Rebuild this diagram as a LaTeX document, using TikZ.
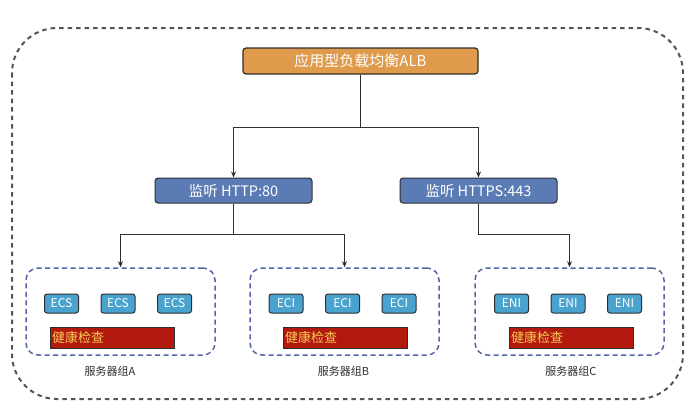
\documentclass[tikz,border=0pt]{standalone}
\usepackage{fontspec}
\setmainfont{Noto Sans CJK SC}
\usetikzlibrary{arrows.meta}
\definecolor{ink}{HTML}{2E2E2E}
\definecolor{albcol}{HTML}{DF9B4B}
\definecolor{lsncol}{HTML}{5A7BB3}
\definecolor{srvcol}{HTML}{4AA3CF}
\definecolor{hccol}{HTML}{B3190F}
\definecolor{hctxt}{HTML}{F7CB52}
\definecolor{grpcol}{HTML}{5465A5}
\definecolor{framecol}{HTML}{555555}

\begin{document}
\begin{tikzpicture}[
  x=1pt, y=-1pt, >={Stealth[length=6pt,width=5pt]},
  alb/.style={draw=ink, fill=albcol, rounded corners=3pt, line width=1.2pt, text=white,
    font=\fontsize{15}{17}\selectfont, minimum width=235pt, minimum height=26pt, inner sep=0pt},
  lsn/.style={draw=ink, fill=lsncol, rounded corners=3pt, line width=1pt, text=white,
    font=\fontsize{14.5}{17}\selectfont, minimum width=157pt, minimum height=25pt, inner sep=0pt},
  srv/.style={draw=ink, fill=srvcol, rounded corners=2.5pt, line width=1pt, text=white,
    font=\fontsize{12}{13}\selectfont, minimum width=34pt, minimum height=19pt, inner sep=0pt},
  hc/.style={draw=ink, fill=hccol, line width=0.8pt, text=hctxt, font=\fontsize{13}{14}\selectfont,
    minimum height=21pt, text width=120pt, inner xsep=2pt, inner ysep=0pt, align=left},
  grp/.style={draw=grpcol, dash pattern=on 5pt off 3.5pt, line width=1.5pt, rounded corners=12pt,
    minimum width=189pt, minimum height=87pt},
  glbl/.style={font=\fontsize{11}{12}\selectfont, text=ink},
  link/.style={draw=ink, line width=1.3pt, ->}]

\useasboundingbox (0,0) rectangle (693,418);

% ================================================================ outer frame
\draw[framecol, line width=2pt, dash pattern=on 4.5pt off 4pt, rounded corners=45pt]
  (12,28) rectangle (683,399);

% ================================================================ balancer and listeners
\node[alb] (alb) at (360.5,61) {应用型负载均衡ALB};
\node[lsn] (http)  at (233.5,190.5) {监听 HTTP:80};
\node[lsn] (https) at (478.5,190.5) {监听 HTTPS:443};

% ================================================================ server groups
\foreach \g/\gx/\cx/\hx/\lx/\t in {A/120.5/61.5/112/110/ECS, B/344.5/286/345/343.5/ECI, C/569.5/511.5/571/571/ENI}{
  \node[grp] (grp\g) at (\gx,311.5) {};
  \foreach \i in {0,1,2}
    \node[srv] (srv\g\i) at ({\cx+\i*56.5},303.5) {\t};
  \node[hc] (hc\g) at (\hx,337.5) {健康检查};
  \node[glbl] (lbl\g) at (\lx,371) {服务器组\g};
}

% ================================================================ connectors
\draw[link] (alb.south) -- ++(0,53) -| (http.north);
\draw[link] (alb.south) -- ++(0,53) -| (https.north);
\draw[link] (http.south) -- ++(0,31) -| (grpA.north);
\draw[link] (http.south) -- ++(0,31) -| (grpB.north);
\draw[link] (https.south) -- ++(0,31) -| (grpC.north);

\end{tikzpicture}
\end{document}
